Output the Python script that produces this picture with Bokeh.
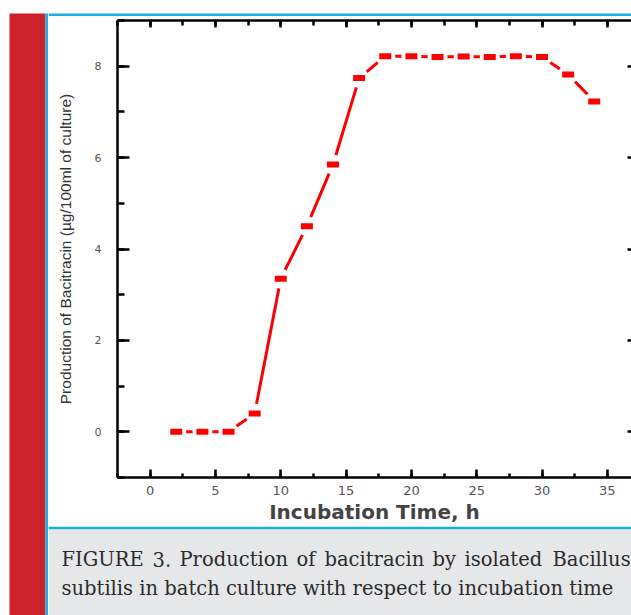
from bokeh.plotting import figure
from bokeh.layouts import row, column
from bokeh.models import (Range1d, LinearAxis, SingleIntervalTicker, Label,
                          CustomJSTickFormatter)
from bokeh.embed import file_html
from bokeh.resources import INLINE

# ---- data ----
hours = [2, 4, 6, 8, 10, 12, 14, 16, 18, 20, 22, 24, 26, 28, 30, 32, 34]
bacitracin = [0.0, 0.0, 0.0, 0.4, 3.35, 4.5, 5.85, 7.74, 8.22, 8.22, 8.2,
              8.21, 8.2, 8.22, 8.2, 7.82, 7.23]

x_title = "Incubation Time, h"
y_title = "Production of Bacitracin (\u00b5g/100ml of culture)"
caption_line1_words = ["FIGURE", "3.", "Production", "of", "bacitracin", "by",
                       "isolated", "Bacillus"]
caption_line2 = "subtilis in batch culture with respect to incubation time"

# ---- layout (page pixels; line 1 of the caption is justified) ----
word_x_page = [61, 152, 179, 296, 324, 432, 464, 552]
SIDE_W = 48
TOP_H = 16
CHART_H = 510
CAP_H = 89
RIGHT_W = 631 - SIDE_W

RED = "#cc2229"
BLUE = "#1aaee5"
GREY = "#e6e7e9"


def deco_fig(w, h):
    f = figure(width=w, height=h, output_backend="svg", toolbar_location=None,
               x_range=Range1d(0, w), y_range=Range1d(h, 0),
               x_axis_location=None, y_axis_location=None,
               min_border=0, min_border_left=0, min_border_right=0,
               min_border_top=0, min_border_bottom=0)
    f.outline_line_color = None
    f.xgrid.visible = False
    f.ygrid.visible = False
    f.background_fill_color = "white"
    f.border_fill_color = "white"
    return f


# left strip: red bar + blue rule
side = deco_fig(SIDE_W, 615)
side.quad(left=[9, 45], right=[45, 48], top=[13, 13], bottom=[615, 615],
          fill_color=[RED, BLUE], line_color=None)

# top blue rule
top = deco_fig(RIGHT_W, TOP_H)
top.quad(left=[0], right=[RIGHT_W], top=[13], bottom=[16],
         fill_color=BLUE, line_color=None)

# caption box
cap = deco_fig(RIGHT_W, CAP_H)
cap.quad(left=[0, 0], right=[RIGHT_W, RIGHT_W], top=[0, 3], bottom=[3, CAP_H],
         fill_color=[BLUE, GREY], line_color=None)
CAP_FONT = "DejaVu Serif"
CAP_TOP = TOP_H + CHART_H
for w, xp in zip(caption_line1_words, word_x_page):
    cap.add_layout(Label(x=xp - SIDE_W, y=559 - CAP_TOP, text=w,
                         text_font=CAP_FONT, text_font_size="19.5px",
                         text_color="#2b2b2b", text_baseline="alphabetic",
                         text_align="left"))
cap.add_layout(Label(x=61 - SIDE_W, y=588 - CAP_TOP, text=caption_line2,
                     text_font=CAP_FONT, text_font_size="19.5px",
                     text_color="#2b2b2b", text_baseline="alphabetic",
                     text_align="left"))

# ---- chart ----
p = figure(width=RIGHT_W, height=CHART_H, output_backend="svg",
           toolbar_location=None,
           x_range=Range1d(-2.5, 36.85), y_range=Range1d(-1, 9),
           x_axis_location=None, y_axis_location=None,
           min_border_left=117 - SIDE_W, min_border_top=20 - TOP_H,
           min_border_bottom=TOP_H + CHART_H - 477, min_border_right=0)
p.outline_line_color = None
p.xgrid.visible = False
p.ygrid.visible = False
p.background_fill_color = "white"
p.border_fill_color = "white"

AX_W = 2.5


def style(ax):
    ax.axis_line_width = AX_W
    ax.axis_line_color = "black"
    ax.major_tick_line_width = AX_W
    ax.minor_tick_line_width = AX_W
    ax.major_tick_line_color = "black"
    ax.minor_tick_line_color = "black"
    ax.major_tick_out = 0
    ax.minor_tick_out = 0
    ax.major_label_text_font = "DejaVu Sans"
    ax.major_label_text_font_size = "12px"
    ax.major_label_text_color = "#555555"


xb = LinearAxis(ticker=SingleIntervalTicker(interval=5, num_minor_ticks=2))
style(xb)
xb.major_tick_in = 8
xb.minor_tick_in = 4
xb.major_label_standoff = 8
xb.major_label_text_font_size = "13px"
xb.axis_label = x_title
xb.axis_label_text_font = "DejaVu Sans"
xb.axis_label_text_font_style = "bold"
xb.axis_label_text_font_size = "20px"
xb.axis_label_text_color = "#444444"
xb.axis_label_standoff = 2
p.add_layout(xb, "below")

blank = CustomJSTickFormatter(code="return ''")

xt = LinearAxis(ticker=SingleIntervalTicker(interval=5, num_minor_ticks=2),
                formatter=blank)
style(xt)
xt.major_tick_in = 7
xt.minor_tick_in = 5
xt.major_label_standoff = 0
p.add_layout(xt, "above")

yl = LinearAxis(ticker=SingleIntervalTicker(interval=2, num_minor_ticks=2))
style(yl)
yl.major_tick_in = 12
yl.minor_tick_in = 7
yl.major_label_standoff = 16
yl.major_label_text_font_size = "11px"
yl.axis_label = y_title
yl.axis_label_text_font = "Liberation Sans"
yl.axis_label_text_font_style = "normal"
yl.axis_label_text_font_size = "15.5px"
yl.axis_label_text_color = "#333333"
yl.axis_label_standoff = 18
p.add_layout(yl, "left")

yr = LinearAxis(ticker=SingleIntervalTicker(interval=2, num_minor_ticks=0),
                formatter=blank)
style(yr)
yr.axis_line_color = None
yr.major_tick_in = 4
yr.minor_tick_in = 0
yr.major_label_standoff = 0
p.add_layout(yr, "right")

# data line with small gaps around the markers
p.line(hours, bacitracin, line_color="#ff0000", line_width=3)
p.scatter(hours, bacitracin, marker="circle", size=20, fill_color="white",
          line_color=None)
p.rect(hours, bacitracin, width=12, height=6, width_units="screen",
       height_units="screen", fill_color="#ff0000", line_color=None)

layout = row(side, column(top, row(p, spacing=0), cap, spacing=0), spacing=0)
open("out.html", "w").write(file_html(layout, INLINE))
